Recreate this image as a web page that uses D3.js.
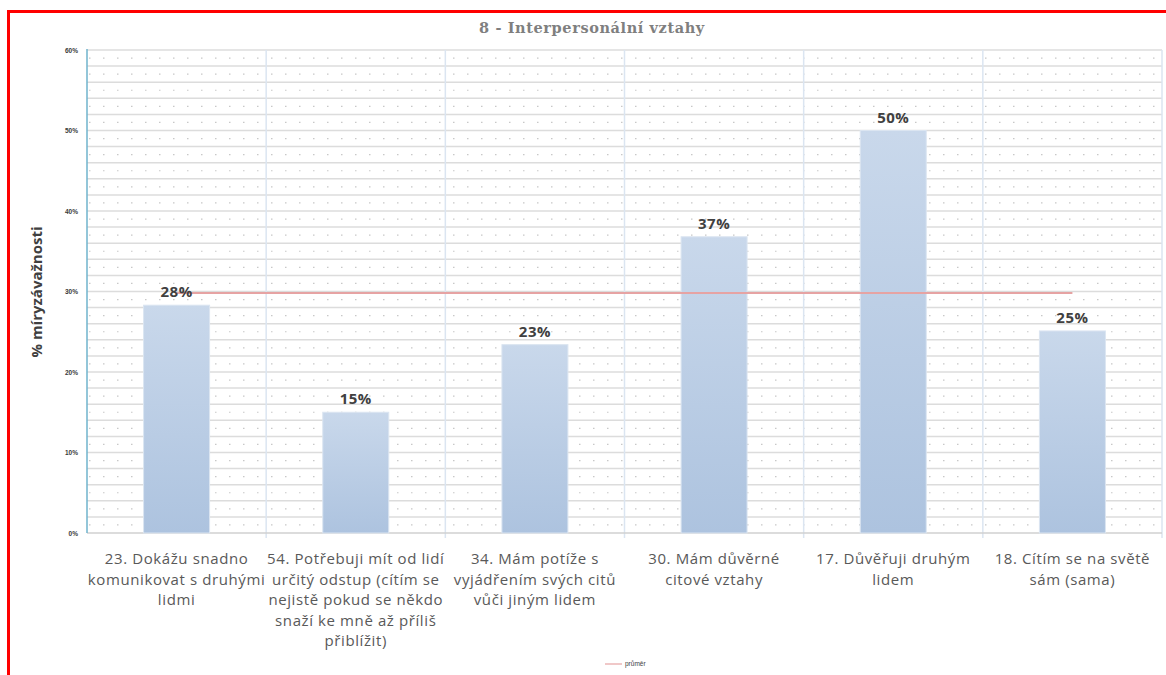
<!DOCTYPE html>
<html><head><meta charset="utf-8">
<script src="https://cdn.jsdelivr.net/npm/d3@7"></script>
<style>body{margin:0;background:#fff;}svg{display:block;}</style>
</head><body>
<svg id="c" width="1166" height="675"></svg>
<script>
const categories = [
  ["23. Dokážu snadno","komunikovat s druhými","lidmi"],
  ["54. Potřebuji mít od lidí","určitý odstup (cítím se","nejistě pokud se někdo","snaží ke mně až příliš","přiblížit)"],
  ["34. Mám potíže s","vyjádřením svých citů","vůči jiným lidem"],
  ["30. Mám důvěrné","citové vztahy"],
  ["17. Důvěřuji druhým","lidem"],
  ["18. Cítím se na světě","sám (sama)"]
];
const values = [28.3, 15.0, 23.4, 36.8, 50.0, 25.1];
const labels = ["28%","15%","23%","37%","50%","25%"];
const average = [29.8, 29.8, 29.8, 29.8, 29.8, 29.8];
const yTicks = [0,10,20,30,40,50,60];
const title = "8 - Interpersonální vztahy";
const yTitle = "% míryzávažnosti";
const legendLabel = "průměr";

const svg = d3.select("#c");
const L=87, R=1162, T=50, B=533;
const x = d3.scaleBand().domain(d3.range(categories.length)).range([L,R]).paddingInner(0).paddingOuter(0);
const y = d3.scaleLinear().domain([0,60]).range([B,T]);

const defs = svg.append("defs");
const g = defs.append("linearGradient").attr("id","bg").attr("x1",0).attr("y1",0).attr("x2",0).attr("y2",1);
g.append("stop").attr("offset","0%").attr("stop-color","#c9d8eb");
g.append("stop").attr("offset","100%").attr("stop-color","#adc3df");

// red frame
svg.append("rect").attr("x",8.5).attr("y",11.5).attr("width",1300).attr("height",800)
  .attr("fill","none").attr("stroke","#ff0000").attr("stroke-width",3);

// minor dotted gridlines (odd percents)
const minor = d3.range(1,60,2);
svg.append("g").selectAll("line").data(minor).join("line")
  .attr("x1",L+2).attr("x2",R).attr("y1",d=>y(d)).attr("y2",d=>y(d))
  .attr("stroke","#c8c8c8").attr("stroke-width",1.2).attr("stroke-dasharray","1.5 12.5");
// major gridlines every 2%
const major = d3.range(2,61,2);
svg.append("g").selectAll("line").data(major).join("line")
  .attr("x1",L).attr("x2",R).attr("y1",d=>y(d)).attr("y2",d=>y(d))
  .attr("stroke","#dcdcdc").attr("stroke-width",1.5);
// vertical category lines
svg.append("g").selectAll("line").data(d3.range(1,categories.length+1)).join("line")
  .attr("x1",d=>x(0)+d*x.bandwidth()).attr("x2",d=>x(0)+d*x.bandwidth())
  .attr("y1",T).attr("y2",B+5)
  .attr("stroke","#dbe5f1").attr("stroke-width",1.5);
// x axis baseline
svg.append("line").attr("x1",L).attr("x2",R).attr("y1",B).attr("y2",B).attr("stroke","#d0d0d0").attr("stroke-width",1.5);
// y axis
svg.append("line").attr("x1",L).attr("x2",L).attr("y1",T-1).attr("y2",B).attr("stroke","#6fb3cc").attr("stroke-width",1.5);

// y tick labels
svg.append("g").selectAll("text").data(yTicks).join("text")
  .attr("x",78).attr("y",d=>y(d)+2.5).attr("text-anchor","end")
  .attr("font-family","Liberation Sans, Arial").attr("font-size",6.5).attr("font-weight","bold")
  .attr("fill","#3a3a3a").text(d=>d+"%");

// bars
const bw = 66;
svg.append("g").selectAll("rect").data(values).join("rect")
  .attr("x",(d,i)=>x(i)+x.bandwidth()/2-bw/2).attr("width",bw)
  .attr("y",d=>y(d)).attr("height",d=>y(0)-y(d))
  .attr("fill","url(#bg)").attr("stroke","#dbe5f1").attr("stroke-width",1);

// average line
const line = d3.line().x((d,i)=>x(i)+x.bandwidth()/2).y(d=>y(d));
svg.append("path").datum(average).attr("d",line).attr("fill","none")
  .attr("stroke","#e6a3a3").attr("stroke-width",2);

// bar labels
svg.append("g").selectAll("text").data(values).join("text")
  .attr("x",(d,i)=>x(i)+x.bandwidth()/2).attr("y",d=>y(d)-8)
  .attr("text-anchor","middle").attr("font-family","Open Sans, sans-serif")
  .attr("font-size",15).attr("font-weight","bold").attr("fill","#404040").attr("letter-spacing","0.5")
  .text((d,i)=>labels[i]);

// category labels
const cl = svg.append("g").selectAll("text").data(categories).join("text")
  .attr("text-anchor","middle").attr("font-family","Open Sans, sans-serif")
  .attr("font-size",15).attr("fill","#595959").attr("letter-spacing","0.6");
cl.each(function(lines,i){
  d3.select(this).selectAll("tspan").data(lines).join("tspan")
    .attr("x",x(i)+x.bandwidth()/2).attr("y",(d,j)=>564+j*20.5).text(d=>d);
});

// title
svg.append("text").attr("x",592).attr("y",33).attr("text-anchor","middle")
  .attr("font-family","DejaVu Serif, serif").attr("font-size",14.5).attr("font-weight","bold")
  .attr("fill","#7f7f7f").attr("letter-spacing","0.6").text(title);

// y axis title
svg.append("text").attr("transform","translate(42,292) rotate(-90)").attr("text-anchor","middle")
  .attr("font-family","Open Sans, sans-serif").attr("font-size",15).attr("font-weight","bold")
  .attr("fill","#404040").text(yTitle);

// legend
svg.append("line").attr("x1",605).attr("x2",622).attr("y1",664).attr("y2",664).attr("stroke","#e6a3a3").attr("stroke-width",1.2);
svg.append("text").attr("x",625).attr("y",666).attr("font-family","Liberation Sans, Arial")
  .attr("font-size",6.5).attr("fill","#404040").text(legendLabel);
</script>
</body></html>
